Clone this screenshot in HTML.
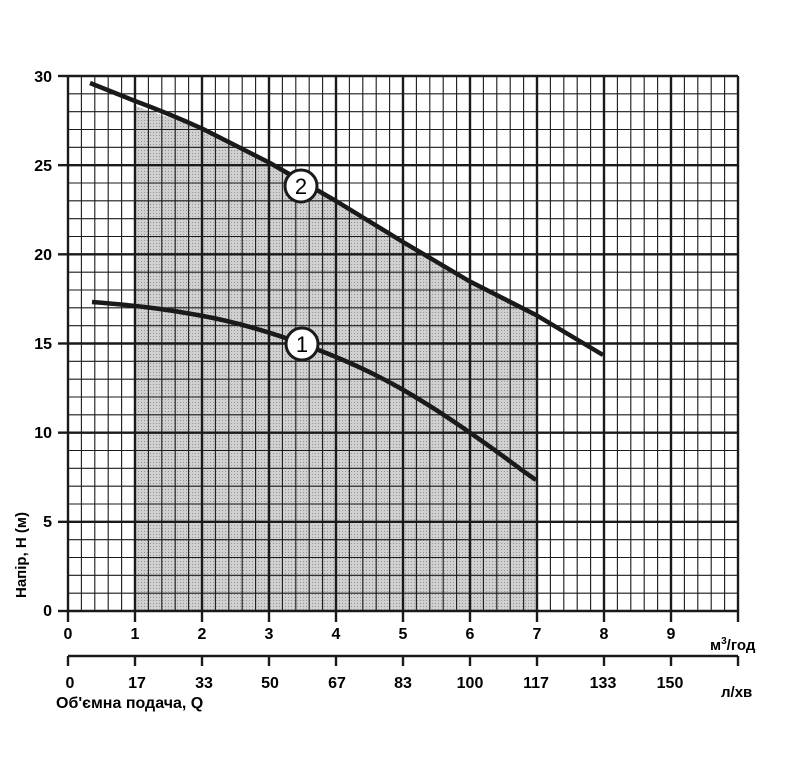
<!DOCTYPE html>
<html><head><meta charset="utf-8"><style>
html,body{margin:0;padding:0;background:#fff;}
svg{display:block;font-family:"Liberation Sans",Arial,sans-serif;font-weight:bold;}
</style></head><body>
<svg width="794" height="772" viewBox="0 0 794 772" xmlns="http://www.w3.org/2000/svg">
<defs>
<pattern id="dots" width="3" height="3" patternUnits="userSpaceOnUse">
<rect width="3" height="3" fill="#d0d0d0"/><rect width="1" height="1" fill="#959595"/>
</pattern>
</defs>
<path d="M135,611 L135,106 L203,129 L270,163 L336,201 L403,242 L469,281 L536,315 L536,611 Z" fill="url(#dots)"/>
<g id="grid"></g>
<script>
(function(){
var ns="http://www.w3.org/2000/svg",g=document.getElementById('grid');
function L(x1,y1,x2,y2,w){var l=document.createElementNS(ns,'line');l.setAttribute('x1',x1);l.setAttribute('y1',y1);l.setAttribute('x2',x2);l.setAttribute('y2',y2);l.setAttribute('stroke','#1a1a1a');l.setAttribute('stroke-width',w);g.appendChild(l);}
for(var i=0;i<=50;i++){var x=68+i*13.4;L(x,76,x,611,i%5==0?2.4:1.1);}
for(var j=0;j<=30;j++){var y=611-j*17.833;L(68,y,738,y,j%5==0?2.4:1.1);}
for(var i=0;i<=10;i++){var x=68+i*67;L(x,611,x,622,2.4);L(x,656,x,666,2.4);}
for(var j=0;j<=6;j++){var y=611-j*89.17;L(58,y,68,y,2.4);}
L(68,656,738,656,2.4);
})();
</script>
<path d="M90,83 L135,101 Q170,114 203,129 L270,163 L336,201 L403,242 L469,281 L536,315 L603,355" fill="none" stroke="#1a1a1a" stroke-width="4.5" stroke-linejoin="round"/>
<path d="M92,302 C130,305 160,308 203,316 S290,338 336,357 S420,398 469,432 S515,466 536,480" fill="none" stroke="#1a1a1a" stroke-width="4.5"/>
<circle cx="301" cy="186" r="16" fill="#fff" stroke="#1a1a1a" stroke-width="3"/>
<text x="301" y="194" font-size="22" text-anchor="middle" font-weight="normal">2</text>
<circle cx="302" cy="344" r="16" fill="#fff" stroke="#1a1a1a" stroke-width="3"/>
<text x="302" y="352" font-size="22" text-anchor="middle" font-weight="normal">1</text>
<g font-size="16" text-anchor="end">
<text x="52" y="82">30</text><text x="52" y="171">25</text><text x="52" y="260">20</text>
<text x="52" y="349">15</text><text x="52" y="438">10</text><text x="52" y="527">5</text><text x="52" y="616">0</text>
</g>
<text transform="translate(26,555) rotate(-90)" font-size="15" text-anchor="middle">Напір, H (м)</text>
<g font-size="16" text-anchor="middle">
<text x="68" y="639">0</text><text x="135" y="639">1</text><text x="202" y="639">2</text><text x="269" y="639">3</text><text x="336" y="639">4</text><text x="403" y="639">5</text><text x="470" y="639">6</text><text x="537" y="639">7</text><text x="604" y="639">8</text><text x="671" y="639">9</text>
<text x="70" y="688">0</text><text x="137" y="688">17</text><text x="204" y="688">33</text><text x="270" y="688">50</text><text x="337" y="688">67</text><text x="403" y="688">83</text><text x="470" y="688">100</text><text x="536" y="688">117</text><text x="603" y="688">133</text><text x="670" y="688">150</text>
</g>
<text x="710" y="650" font-size="15">м<tspan font-size="10" dy="-6">3</tspan><tspan dy="6">/год</tspan></text>
<text x="721" y="697" font-size="15">л/хв</text>
<text x="56" y="708" font-size="16">Об'ємна подача, Q</text>
</svg>
</body></html>
